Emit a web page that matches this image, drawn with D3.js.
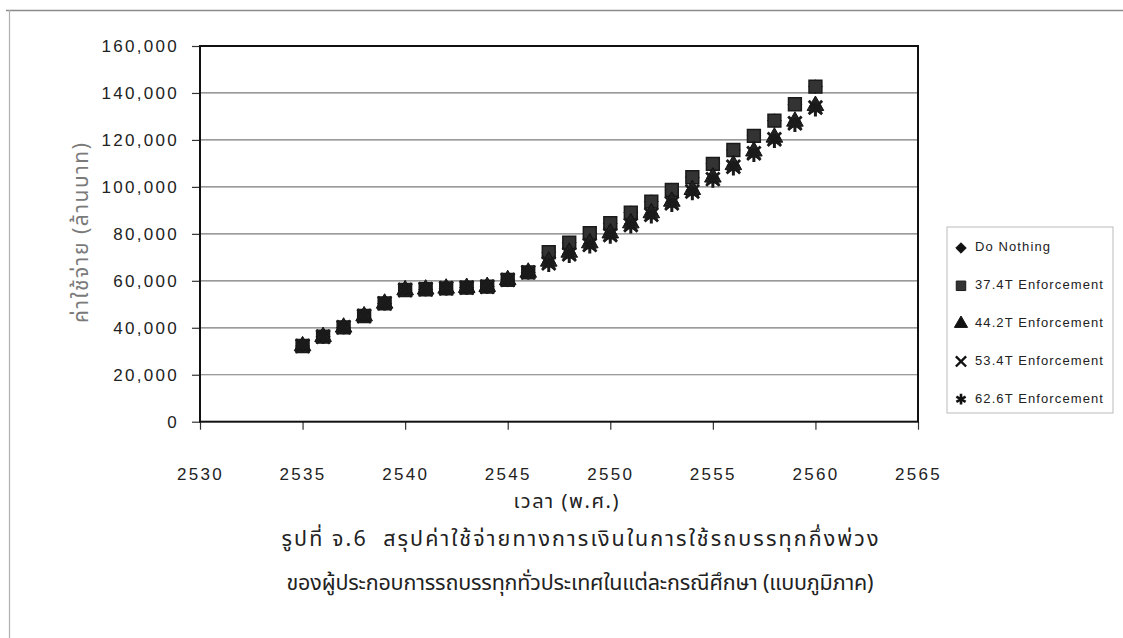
<!DOCTYPE html>
<html><head><meta charset="utf-8">
<script src="https://cdn.jsdelivr.net/npm/d3@7"></script>
<style>
html,body{margin:0;padding:0;background:#fff;}
svg{display:block;}
</style></head>
<body>
<svg id="chart" width="1123" height="638"></svg>
<script>
// ---- data ----
const years = [2535,2536,2537,2538,2539,2540,2541,2542,2543,2544,2545,2546,2547,2548,2549,2550,2551,2552,2553,2554,2555,2556,2557,2558,2559,2560];
const doNothing = [32250,36200,40200,45000,50400,56100,56400,56800,57100,57500,60400,63600,72200,76200,80300,84500,89000,93700,98700,104100,109800,115700,121700,128200,135200,142700];
const enf374 = [32250,36200,40200,45000,50400,56100,56400,56800,57100,57500,60400,63600,72200,76200,80300,84500,89000,93700,98700,104100,109800,115700,121700,128200,135200,142700];
const enf442 = [32250,36200,40200,45000,50400,56100,56400,56800,57100,57500,60400,63600,68300,72100,76100,80300,84600,88900,93800,98800,104100,109400,115200,121100,127900,134600];
const enf534 = [32250,36200,40200,45000,50400,56100,56400,56800,57100,57500,60400,63600,67500,71300,75300,79500,83800,88100,93000,98000,103300,108600,114300,120300,127100,133800];
const enf626 = [32250,36200,40200,45000,50400,56100,56400,56800,57100,57500,60400,63600,66800,70600,74600,78800,83100,87400,92300,97300,102600,107900,113600,119600,126400,133000];
const seriesNames = ["Do Nothing","37.4T Enforcement","44.2T Enforcement","53.4T Enforcement","62.6T Enforcement"];
const xTicks = [2530,2535,2540,2545,2550,2555,2560,2565];
const yTicks = [0,20000,40000,60000,80000,100000,120000,140000,160000];
const yTitle = "ค่าใช้จ่าย (ล้านบาท)";
const xTitle = "เวลา (พ.ศ.)";
const captionLines = ["รูปที่ จ.6  สรุปค่าใช้จ่ายทางการเงินในการใช้รถบรรทุกกึ่งพ่วง",
                      "ของผู้ประกอบการรถบรรทุกทั่วประเทศในแต่ละกรณีศึกษา (แบบภูมิภาค)"];

const seriesData = [doNothing, enf374, enf442, enf534, enf626];
const thaiFont = "'Noto Sans Thai','Noto Sans Thai UI','Loma','Garuda','Norasi','Tlwg Typo',sans-serif";
const latinFont = "'Liberation Sans',Arial,sans-serif";

const svg = d3.select("#chart");
const L = 200, R = 918, T = 46, B = 421.7;
const x = d3.scaleLinear().domain([2530,2565]).range([L,R]);
const y = d3.scaleLinear().domain([0,160000]).range([B,T]);

// page frame
svg.append("line").attr("x1",6).attr("x2",1123).attr("y1",10.5).attr("y2",10.5)
  .attr("stroke","#8a8a8a").attr("stroke-width",1.5);
svg.append("line").attr("x1",9.5).attr("x2",9.5).attr("y1",10).attr("y2",638)
  .attr("stroke","#b0b0b0").attr("stroke-width",1.2);

// gridlines
svg.append("g").selectAll("line").data(yTicks.filter(d=>d>0 && d<160000)).join("line")
  .attr("x1",L).attr("x2",R).attr("y1",d=>y(d)).attr("y2",d=>y(d))
  .attr("stroke","#7a7a7a").attr("stroke-width",1.2);

// axes
const yAxis = svg.append("g").attr("transform",`translate(${L},0)`)
  .call(d3.axisLeft(y).tickValues(yTicks).tickSize(8).tickPadding(13).tickFormat(d3.format(",")));
const xAxis = svg.append("g").attr("transform",`translate(0,${B})`)
  .call(d3.axisBottom(x).tickValues(xTicks).tickSize(8).tickPadding(38).tickFormat(d3.format("d")));
[yAxis,xAxis].forEach(g=>{
  g.select(".domain").remove();
  g.selectAll(".tick line").attr("stroke","#333").attr("stroke-width",1.2);
  g.selectAll("text").attr("font-family",latinFont).attr("font-size",17)
    .attr("fill","#222").style("letter-spacing","2.3px");
});

// frame
svg.append("rect").attr("x",L).attr("y",T).attr("width",R-L).attr("height",B-T)
  .attr("fill","none").attr("stroke","#111").attr("stroke-width",2);

// markers
const symDefs = [
  {type:d3.symbolDiamond2, size:120, fill:"#222", stroke:"#111", sw:1},
  {type:d3.symbolSquare, size:165, fill:"#333", stroke:"#1a1a1a", sw:1.5},
  {type:d3.symbolTriangle, size:120, fill:"#222", stroke:"#111", sw:1},
  {type:d3.symbolTimes, size:120, fill:"none", stroke:"#1a1a1a", sw:2.8},
  {type:d3.symbolAsterisk, size:140, fill:"none", stroke:"#1a1a1a", sw:3}
];
seriesData.forEach((vals,i)=>{
  const s = symDefs[i];
  svg.append("g").selectAll("path").data(years.map((yr,j)=>({yr,v:vals[j]}))).join("path")
    .attr("transform",d=>`translate(${x(d.yr)},${y(d.v)})`)
    .attr("d",d3.symbol().type(s.type).size(s.size))
    .attr("fill",s.fill).attr("stroke",s.stroke).attr("stroke-width",s.sw);
});

// axis titles
svg.append("text").attr("transform",`translate(82,${233}) rotate(-90)`)
  .attr("text-anchor","middle").attr("dominant-baseline","middle")
  .attr("textLength",180).attr("lengthAdjust","spacing")
  .attr("font-family",thaiFont).attr("font-size",21).attr("fill","#7a7a7a").text(yTitle);
svg.append("text").attr("x",566).attr("y",502).attr("text-anchor","middle").attr("dominant-baseline","middle")
  .attr("textLength",105).attr("lengthAdjust","spacing")
  .attr("font-family",thaiFont).attr("font-size",20).attr("fill","#222").text(xTitle);

// caption
const capWidths = [597, 587];
captionLines.forEach((t,i)=>{
  svg.append("text").attr("x",580).attr("y",540+i*44).attr("text-anchor","middle").attr("dominant-baseline","middle")
    .attr("xml:space","preserve").style("white-space","pre")
    .attr("textLength",capWidths[i]).attr("lengthAdjust","spacing")
    .attr("font-family",thaiFont).attr("font-size",21.5).attr("fill","#222").text(t);
});

// legend
const lg = svg.append("g");
lg.append("rect").attr("x",947).attr("y",227).attr("width",166).attr("height",186)
  .attr("fill","#fff").attr("stroke","#bbb").attr("stroke-width",1);
const legendSym = [
  {type:d3.symbolDiamond2, size:70, fill:"#111", stroke:"#111", sw:1},
  {type:d3.symbolSquare, size:90, fill:"#333", stroke:"#1a1a1a", sw:1},
  {type:d3.symbolTriangle, size:75, fill:"#111", stroke:"#111", sw:1},
  {type:d3.symbolTimes, size:70, fill:"none", stroke:"#111", sw:2.4},
  {type:d3.symbolAsterisk, size:80, fill:"none", stroke:"#111", sw:2.6}
];
seriesNames.forEach((n,i)=>{
  const yy = 248 + i*37.8;
  const s = legendSym[i];
  lg.append("path").attr("transform",`translate(961,${yy})`)
    .attr("d",d3.symbol().type(s.type).size(s.size))
    .attr("fill",s.fill).attr("stroke",s.stroke).attr("stroke-width",s.sw);
  lg.append("text").attr("x",975).attr("y",yy).attr("dominant-baseline","middle")
    .attr("font-family",latinFont).attr("font-size",13).attr("fill","#222")
    .style("letter-spacing","1.1px").text(n);
});
</script>
</body></html>
